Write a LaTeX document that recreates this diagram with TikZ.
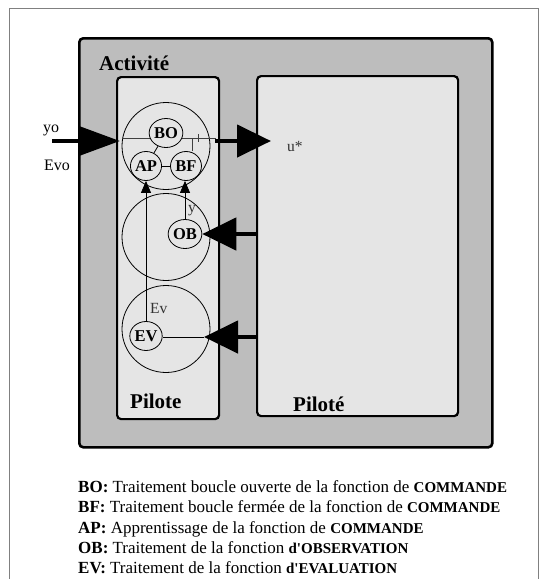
\documentclass[tikz,border=0pt]{standalone}
\usepackage{fontspec}
\setmainfont{Liberation Serif}
\usetikzlibrary{shapes.geometric,arrows.meta}
\definecolor{outerc}{gray}{0.74}
\definecolor{innerc}{gray}{0.90}
\tikzset{
  boxa/.style={draw, line width=2.2pt, rounded corners=4pt, fill=innerc, inner sep=0pt, anchor=north west},
  boxo/.style={draw, line width=2.6pt, rounded corners=4pt, fill=outerc, inner sep=0pt, anchor=north west},
  bigc/.style={ellipse, draw, line width=0.8pt, minimum width=88pt, minimum height=87pt, inner sep=0pt},
  smc/.style={ellipse, draw, line width=0.8pt, fill=innerc, minimum width=31pt, minimum height=29pt, inner sep=0pt, font=\bfseries\fontsize{16.5}{16.5}\selectfont},
  biglab/.style={anchor=base west, inner sep=0pt, font=\bfseries\fontsize{21}{21}\selectfont},
  smlab/.style={anchor=base west, inner sep=0pt, font=\fontsize{15.5}{15.5}\selectfont},
  leg/.style={anchor=base west, inner sep=0pt, font=\fontsize{17}{20}\selectfont},
  thinl/.style={line width=0.8pt},
  fatA/.style={line width=4.5pt, -{Triangle[length=40pt,width=28pt]}},
  fatB/.style={line width=4.5pt, -{Triangle[length=34pt,width=32pt]}},
  varr/.style={line width=0.8pt, -{Triangle[length=12pt,width=10pt]}}
}
\newcommand{\cmd}[1]{{\bfseries\fontsize{15}{20}\selectfont #1}}
\begin{document}
\begin{tikzpicture}[x=1pt,y=-1pt]
\useasboundingbox (0,0) rectangle (544,579);
\fill[white] (0,0) rectangle (544,579);
\draw[gray, line width=1pt] (9,590) -- (9,8) -- (538,8) -- (538,590);

% boxes
\node[boxo, minimum width=413pt, minimum height=409pt] (act) at (78,37) {};
\node[boxa, minimum width=102pt, minimum height=342pt] (pil) at (116,76) {};
\node[boxa, minimum width=201pt, minimum height=340pt] (pild) at (256,75) {};

\node[biglab] (lact) at (99,70) {Activité};
\node[biglab] (lpil) at (130,408) {Pilote};
\node[biglab] (lpild) at (293,411) {Piloté};

% big circles
\node[bigc] (c1) at (166,146) {};
\node[bigc] (c2) at (166,237) {};
\node[bigc] (c3) at (166,329) {};

% line through BO
\coordinate (hA) at (123,138);
\coordinate (hB) at (216,138);
\draw[thinl, black!75] (hA) -- (hB);
\coordinate (vt) at (192,138);
\coordinate (tk) at (198,138);
\draw[thinl, black!75] (tk) ++(0,-4) -- ++(0,8);

% small circles
\node[smc] (BO) at (166,133) {BO};
\node[smc] (AP) at (146,166) {AP};
\node[smc] (BF) at (186,166) {BF};
\node[smc] (OB) at (185,234) {OB};
\node[smc] (EV) at (146,336) {EV};

\draw[thinl, black!75] (vt) -- (vt |- BF.north);
\draw[thinl] (BO) -- (AP);
\draw[thinl] (AP) -- (BF);

% vertical arrows
\draw[varr] (EV.north) -- (EV.north |- AP.south);
\draw[varr] (OB.north) -- (OB.north |- BF.south);
\node[smlab, black!80] (lEv) at (150,313) {Ev};
\node[smlab, black!80] (ly) at (188,212) {y};

% input arrow
\coordinate (yoS) at (52,141);
\coordinate (yoT) at (120,141);
\draw[fatA] (yoS) -- (yoT);
\node[smlab, font=\fontsize{16}{16}\selectfont] (lyo) at (43,132) {yo};
\node[smlab, font=\fontsize{16}{16}\selectfont] (levo) at (44,170) {Evo};

% output arrow
\coordinate (uS) at (215,141);
\coordinate (uT) at (271,141);
\draw[fatB] (uS) -- (uT);
\node[smlab, black!80] (lu) at (287,151) {u*};

% feedback arrows
\draw[fatB] (pild.west |- OB.east) -- (OB.east);
\coordinate (evT) at (204,337);
\draw[thinl] (EV.east |- evT) -- (evT);
\draw[fatB] (pild.west |- evT) -- (evT);

% legend
\node[leg] (l1) at (78,492) {\textbf{BO:} Traitement boucle ouverte de la fonction de \cmd{COMMANDE}};
\node[leg] (l2) at (78,512.5) {\textbf{BF:} Traitement boucle fermée de la fonction de \cmd{COMMANDE}};
\node[leg] (l3) at (78,533) {\textbf{AP:} Apprentissage de la fonction de \cmd{COMMANDE}};
\node[leg] (l4) at (78,553) {\textbf{OB:} Traitement de la fonction \cmd{d\textquotesingle OBSERVATION}};
\node[leg] (l5) at (78,573) {\textbf{EV:} Traitement de la fonction \cmd{d\textquotesingle EVALUATION}};
\end{tikzpicture}
\end{document}
